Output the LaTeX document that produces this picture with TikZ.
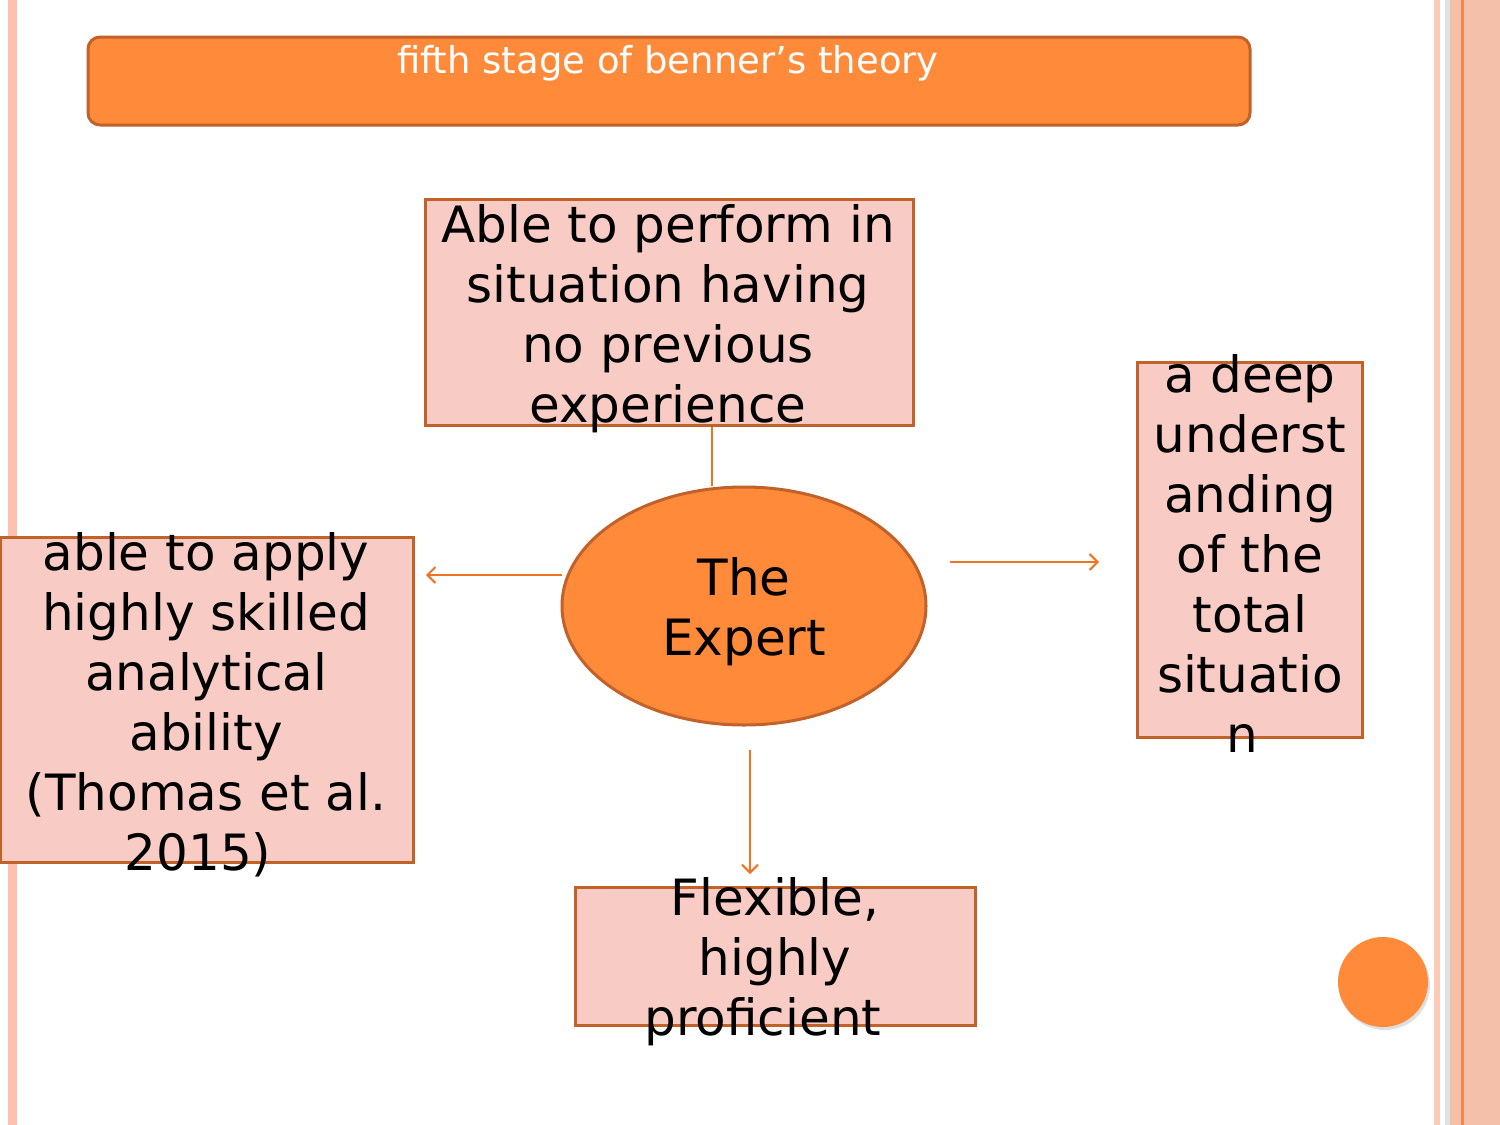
\documentclass[tikz,border=0pt]{standalone}
\usepackage{fontspec}
\setmainfont{DejaVu Sans}
\usetikzlibrary{shapes.geometric,arrows.meta,shadows}
\definecolor{orfill}{HTML}{FF8A3A}
\definecolor{orline}{HTML}{C0622A}
\definecolor{pinkfill}{HTML}{F8CBC4}
\definecolor{arrowor}{HTML}{EE7424}
\definecolor{stripe}{HTML}{FFC0B0}
\definecolor{peach}{HTML}{F5C0AA}
\definecolor{peachb}{HTML}{FBCBB7}
\definecolor{bluegray}{HTML}{DDE3E3}
\definecolor{orstripe}{HTML}{F08A4A}
\tikzset{
  pbox/.style={draw=orline, line width=3pt, fill=pinkfill, rectangle, inner sep=0pt},
  btext/.style={align=center, font=\fontsize{50}{60}\selectfont, text=black, inner sep=0pt},
  conn/.style={draw=arrowor, line width=2pt},
  arr/.style={conn, -{Straight Barb[length=8pt,width=16pt,line width=2pt]}},
}
\begin{document}
\begin{tikzpicture}[x=1pt,y=-1pt]
\useasboundingbox (0,0) rectangle (1500,1125);
\fill[white] (0,0) rectangle (1500,1125);
% side stripes
\fill[stripe] (8,0) rectangle (17,1125);
\fill[peachb] (1434,0) rectangle (1440,1125);
\fill[bluegray] (1445,0) rectangle (1450,1125);
\fill[peach] (1450,0) rectangle (1500,1125);
\fill[orstripe] (1461,0) rectangle (1463.5,1125);
% title
\node[draw=orline, line width=3pt, fill=orfill, rounded corners=12pt, minimum width=1162pt, minimum height=88pt, inner sep=0pt] (title) at (669,81) {};
\node[text=white, font=\fontsize{37}{44}\selectfont, inner sep=0pt] (titletext) at (668,63) {fifth stage of benner’s theory};
% boxes
\node[pbox, minimum width=488pt, minimum height=226pt] (top) at (669,312) {};
\node[btext] (toptext) at (668,319) {Able to perform in\\situation having\\no previous\\experience};
\node[pbox, minimum width=413pt, minimum height=325pt] (left) at (206.5,699.5) {};
\node[btext] (lefttext) at (206,705) {able to apply\\highly skilled\\analytical\\ability\\(Thomas et al.\\2015)\hspace*{16pt}};
\node[pbox, minimum width=225pt, minimum height=375pt] (right) at (1249.5,549.5) {};
\node[btext] (righttext) at (1250,553) {a deep\\underst\\anding\\of the\\total\\situatio\\n\hspace*{16pt}};
\node[pbox, minimum width=400pt, minimum height=138pt] (bottom) at (775,956) {};
\node[btext] (bottomtext) at (775,962) {Flexible,\\highly\\proficient\hspace*{24pt}};
% ellipse
\node[ellipse, draw=orline, line width=3pt, fill=orfill, minimum width=364pt, minimum height=238pt, inner sep=0pt] (expert) at (744,606) {};
\node[btext] (experttext) at (744,612) {The\\Expert};
% connectors
\draw[conn] (top.south -| 712,0) -- (expert.north -| 712,0);
\coordinate (la) at (562,575);
\coordinate (lb) at (426,575);
\draw[arr] (la) -- (lb);
\coordinate (ra) at (950,562);
\coordinate (rb) at (1099,562);
\draw[arr] (ra) -- (rb);
\coordinate (da) at (750,750);
\coordinate (db) at (750,874);
\draw[arr] (da) -- (db);
% small circle
\node[circle, fill=orfill, minimum size=90pt, inner sep=0pt, drop shadow={shadow xshift=2pt, shadow yshift=-3pt, opacity=0.25}] (dot) at (1383,982) {};
\end{tikzpicture}
\end{document}
